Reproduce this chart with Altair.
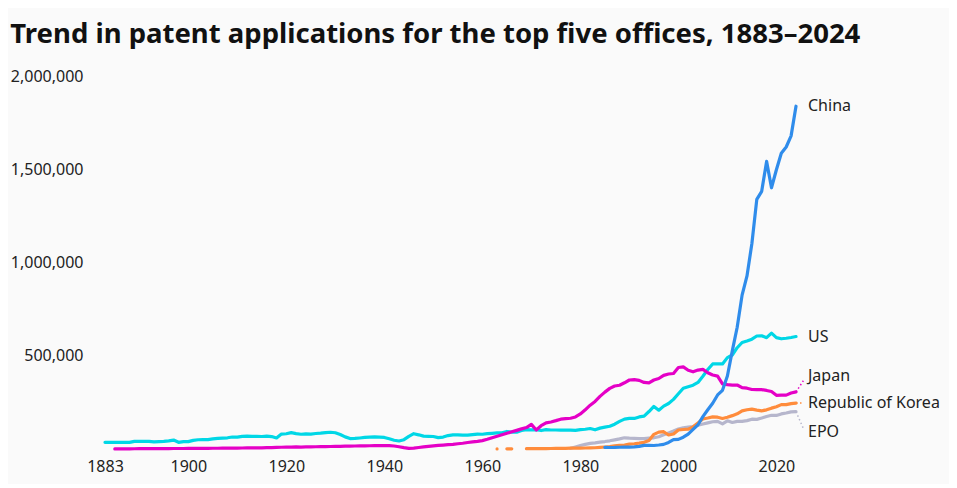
import altair as alt
import pandas as pd

# ---------------- data ----------------
us_years = list(range(1883, 2025))
us_values = [
    35600, 35600, 35700, 35900, 35600, 35800, 40500,
    41000, 40500, 40700, 38500, 39500, 40700, 44000, 47900, 35800, 39700,
    39700, 46200, 49500, 50200, 50300, 54000, 56500, 58700, 60100, 64400,
    63300, 67400, 68800, 68100, 67800, 67100, 68700, 66600, 58900, 80200,
    81900, 87500, 82500, 79000, 81000, 80000, 83000, 85000, 88000, 89800,
    87000, 78000, 65000, 56000, 56500, 59000, 62000, 64000, 65000, 64000,
    62000, 55000, 47000, 43000, 50000, 68000, 82000, 76000, 69000, 68000,
    67000, 61000, 64000, 72000, 76000, 76000, 74000, 74000, 77000, 80000,
    79000, 82000, 84000, 86000, 87000, 94000, 90000, 90000, 99000, 104000,
    103000, 104000, 99000, 104000, 102000, 102000, 101000, 101000, 101000, 100000,
    104000, 106000, 110000, 103000, 112000, 117000, 122000, 133000, 148000, 160000,
    164000, 164000, 172000, 176000, 201000, 228000, 208000, 230000, 244000, 266000,
    296000, 326000, 334000, 342000, 357000, 390000, 426000, 456000, 456000, 456000,
    490000, 504000, 543000, 571000, 579000, 589000, 606000, 607000, 597000, 621000,
    597000, 591000, 594000, 598000, 603000,
]

japan_years = list(range(1885, 2025))
japan_values = [
    400, 800, 1000, 1200, 1300,
    1500, 1700, 1800, 2000, 2100, 2200, 2400, 2600, 2700, 2800,
    2900, 3100, 3300, 3500, 3700, 3900, 4100, 4300, 4600, 4800,
    5000, 5300, 5600, 5900, 6200, 6500, 7000, 7500, 8500, 9500,
    10000, 10500, 11000, 10500, 11000, 11500, 12000, 12500, 13000, 13500,
    14000, 14500, 15000, 15500, 16000, 16500, 17000, 17500, 18000, 18500,
    18500, 18000, 16000, 12000, 7000, 3000, 5000, 8000, 11000, 14000,
    17000, 19000, 21000, 23000, 25000, 28000, 31000, 35000, 38000, 41000,
    45000, 52000, 60000, 68000, 76000, 84000, 92000, 100000, 108000, 115000,
    132000, 102000, 125000, 140000, 145000, 152000, 160000, 163000, 165000, 172000,
    188000, 210000, 235000, 255000, 282000, 305000, 325000, 338000, 342000, 355000,
    370000, 372000, 368000, 357000, 355000, 370000, 378000, 395000, 402000, 405000,
    437000, 440000, 422000, 414000, 423000, 427000, 409000, 397000, 391000, 349000,
    345000, 343000, 343000, 329000, 326000, 319000, 318000, 318000, 314000, 308000,
    288000, 289000, 289000, 300000, 306000,
]

korea_years = list(range(1963, 2025))
korea_values = [
    600, None, 800, 900, None, None, 1500,
    1800, 2000, 2200, 2500, 2700, 2900, 3300, 3800, 4300, 4700,
    5100, 5300, 5900, 6800, 8600, 10600, 12700, 17000, 20000, 21500,
    25800, 28100, 31100, 35600, 45700, 78500, 90300, 92700, 75200, 80600,
    102000, 104600, 106100, 118700, 140100, 160900, 166200, 172500, 170600, 163500,
    170100, 178900, 188900, 204600, 210300, 213700, 208800, 204800, 209900, 219000,
    226800, 237900, 237600, 243300, 246200,
]

epo_years = list(range(1978, 2025))
epo_values = [
    3600, 11000,
    19000, 25000, 30000, 33000, 37000, 40000, 44000, 49000, 54000, 60000,
    58000, 57000, 56000, 56000, 58000, 60000, 66000, 76000, 86000, 96000,
    107000, 114000, 117000, 120000, 127000, 134000, 140000, 146000, 148000, 135000,
    151000, 142000, 148000, 148000, 152000, 160000, 159000, 166000, 174000, 181000,
    180000, 188000, 193000, 199000, 200000,
]

china_years = list(range(1985, 2025))
china_values = [
    8600, 8000, 8200, 9500, 9700,
    10100, 11400, 14400, 19600, 19100, 18700, 21400, 24800, 35000, 50000,
    51700, 63200, 80200, 105300, 130100, 173300, 210500, 245200, 289800, 314600,
    391200, 526400, 652800, 825100, 928200, 1101900, 1338500, 1381600, 1542000, 1400700,
    1497200, 1585700, 1619300, 1679000, 1838000,
]

series_names = ["EPO", "Republic of Korea", "US", "Japan", "China"]
series_colors = ["#b6b6cc", "#ff8c3c", "#00d7e6", "#e500c6", "#2f8ceb"]
x_ticks = [1883, 1900, 1920, 1940, 1960, 1980, 2000, 2020]
y_ticks = [500000, 1000000, 1500000, 2000000]

# ---------------- table ----------------
frames = []
for name, yrs, vals in [
    ("EPO", epo_years, epo_values),
    ("Republic of Korea", korea_years, korea_values),
    ("US", us_years, us_values),
    ("Japan", japan_years, japan_values),
    ("China", china_years, china_values),
]:
    frames.append(pd.DataFrame({"office": name, "year": yrs, "value": vals}))
df = pd.concat(frames, ignore_index=True)
df["order"] = df["office"].map({n: i for i, n in enumerate(series_names)})

last = df.dropna().sort_values("year").groupby("office").tail(1).reset_index(drop=True)

FONT = "Noto Sans"
x_scale = alt.Scale(domain=[1883, 2024], nice=False, zero=False)
y_scale = alt.Scale(domain=[0, 2000000], nice=False)
X = alt.X(
    "year:Q",
    scale=x_scale,
    axis=alt.Axis(
        values=x_ticks, format="d", ticks=False, domain=False, grid=False,
        labelPadding=9, labelFontSize=16, labelColor="#222", labelFont=FONT,
        labelFlush=False, title=None,
    ),
)
Y = alt.Y(
    "value:Q",
    scale=y_scale,
    axis=alt.Axis(
        values=y_ticks, format=",d", ticks=False, domain=False, grid=False,
        labelPadding=22, labelFontSize=16, labelColor="#222", labelFont=FONT,
        title=None,
    ),
)
color = alt.Color(
    "office:N",
    scale=alt.Scale(domain=series_names, range=series_colors),
    legend=None,
)

lines = (
    alt.Chart(df)
    .mark_line(strokeWidth=3.2, invalid="break-paths-show-domains", strokeCap="round", strokeJoin="round")
    .encode(x=X, y=Y, color=color, detail="office:N", order="order:Q")
)

# label offsets in pixels (dy) and leader deltas (data units)
label_dy = {"China": 0, "US": 0, "Japan": -16, "Republic of Korea": 0, "EPO": 20}
leader_dv = {"Japan": 60000, "Republic of Korea": 0, "EPO": -90000}

layers = [lines]
for name in series_names:
    sub = last[last["office"] == name]
    layers.append(
        alt.Chart(sub)
        .mark_text(align="left", baseline="middle", dx=12, dy=label_dy[name],
                   fontSize=16, font=FONT, color="#222")
        .encode(x=X, y=Y, text="office:N")
    )
    if name in leader_dv:
        layers.append(
            alt.Chart(sub)
            .transform_calculate(x2="datum.year + 1.5", y2=f"datum.value + {leader_dv[name]}")
            .mark_rule(strokeWidth=1.5, strokeDash=[1.5, 2.5])
            .encode(x=X, y=Y, x2="x2:Q", y2="y2:Q", color=color)
        )

chart = (
    alt.layer(*layers)
    .properties(
        width=691,
        height=373,
        background="#fafafa",
        padding={"left": 2, "top": 12, "right": 9, "bottom": 10},
        title=alt.TitleParams(
            "Trend in patent applications for the top five offices, 1883–2024",
            anchor="start", frame="bounds", fontSize=27.5, fontWeight="bold",
            font=FONT, color="#111", offset=20,
        ),
    )
    .configure_view(stroke=None)
)

chart.save("out.html", embed_options={"renderer": "svg", "actions": False})
